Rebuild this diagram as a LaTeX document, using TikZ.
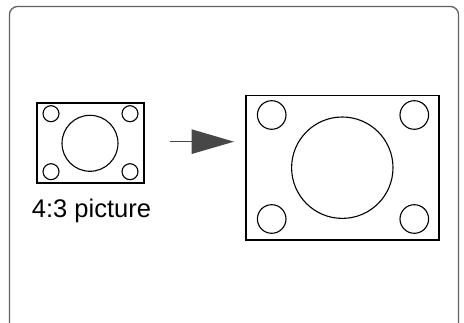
\documentclass[tikz,border=0pt]{standalone}
\usepackage{fontspec}
\setmainfont{Liberation Sans}
\begin{document}
\begin{tikzpicture}[x=1pt,y=-1pt,
  frame/.style={draw=black,line width=1.7pt},
  ring/.style={draw=black,line width=1.1pt},
  arrowcol/.style={fill=black!72,draw=none}]
\useasboundingbox (0,0) rectangle (464,323);
% outer panel (open at bottom)
\draw[black!62,line width=1.3pt,rounded corners=8pt] (9.5,330) -- (9.5,6.5) -- (458.5,6.5) -- (458.5,330);
% small 4:3 picture
\node[frame,minimum width=107pt,minimum height=80pt,inner sep=0pt] (small) at (90.5,143) {};
\foreach \n/\px/\py in {a/51/113.7,b/130/113.7,c/51/171.7,d/130/171.7}
  \node[ring,circle,minimum size=16pt,inner sep=0pt] (s\n) at (\px,\py) {};
\node[ring,circle,minimum size=56pt,inner sep=0pt] (sc) at (90,143.3) {};
\node[font=\fontsize{25.5}{30}\selectfont,anchor=base] (lbl) at (91.5,217.5) {4:3 picture};
% arrow
\coordinate (ta) at (170,141.7);
\coordinate (tb) at (192,141.7);
\draw[black!72,line width=1.3pt] (ta) -- (tb);
\fill[arrowcol] (191.7,129.3) -- (234,141.7) -- (191.7,154) -- cycle;
% big picture
\node[frame,minimum width=193.6pt,minimum height=144.3pt,inner sep=0pt] (big) at (342.5,167.8) {};
\foreach \n/\px/\py in {a/271.7/115,b/414.3/115,c/271.7/219,d/414.3/219}
  \node[ring,circle,minimum size=28.6pt,inner sep=0pt] (b\n) at (\px,\py) {};
\node[ring,circle,minimum size=101.4pt,inner sep=0pt] (bc) at (342.3,167.7) {};
\end{tikzpicture}
\end{document}
